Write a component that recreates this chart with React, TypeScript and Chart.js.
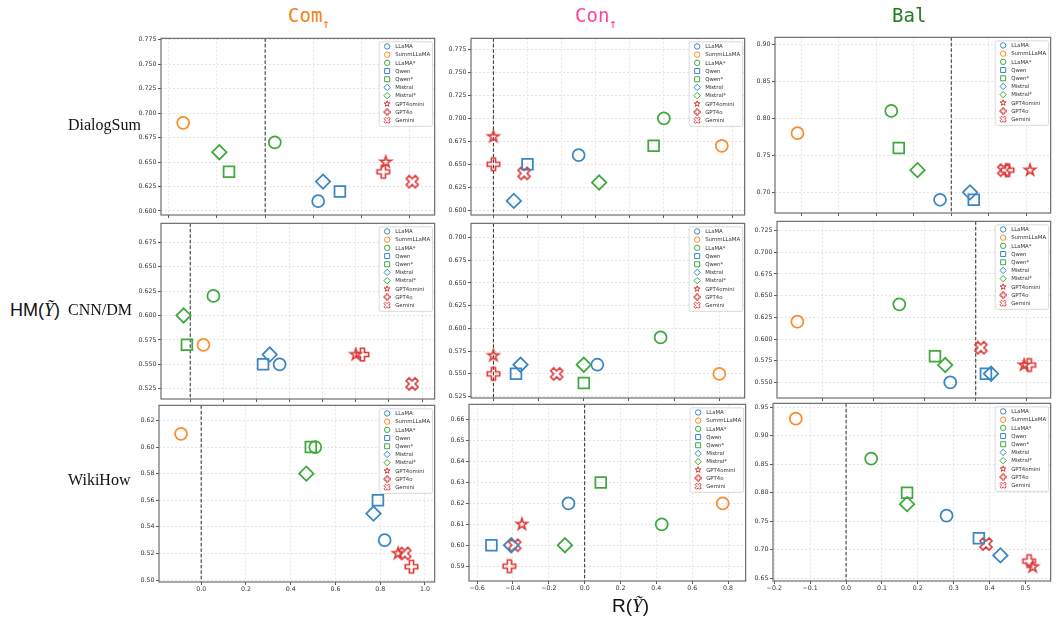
import React, { useEffect, useRef } from "react";
import { Chart, registerables } from "chart.js";

Chart.register(...registerables);

// ---------------- data ----------------
const MODELS = ["LLaMA", "SummLLaMA", "LLaMA*", "Qwen", "Qwen*", "Mistral", "Mistral*", "GPT4omini", "GPT4o", "Gemini"];
const MODEL_MARKERS = ["circle", "circle", "circle", "rect", "rect", "rectRot", "rectRot", "star", "plus", "x"];
const MODEL_COLOR_KEYS = ["blue", "orange", "green", "blue", "green", "blue", "green", "red", "red", "red"];

const COLUMN_TITLES = ["Com", "Con", "Bal"];
const ROW_TITLES = ["DialogSum", "CNN/DM", "WikiHow"];

// DialogSum
const DS_COM_X = [0.22, -0.34, 0.04, 0.31, -0.15, 0.24, -0.19, 0.5, 0.49, 0.61];
const DS_COM_Y = [0.61, 0.69, 0.67, 0.62, 0.64, 0.63, 0.66, 0.65, 0.64, 0.63];
const DS_CON_X = [0.25, 0.67, 0.5, 0.1, 0.47, 0.06, 0.31, 0.0, 0.0, 0.09];
const DS_CON_Y = [0.66, 0.67, 0.7, 0.65, 0.67, 0.61, 0.63, 0.68, 0.65, 0.64];
const DS_BAL_X = [-0.03, -0.41, -0.16, 0.06, -0.14, 0.05, -0.09, 0.21, 0.15, 0.14];
const DS_BAL_Y = [0.69, 0.78, 0.81, 0.69, 0.76, 0.7, 0.73, 0.73, 0.73, 0.73];
// CNN/DM
const CNN_COM_X = [0.27, 0.04, 0.07, 0.22, -0.01, 0.24, -0.02, 0.5, 0.52, 0.67];
const CNN_COM_Y = [0.55, 0.57, 0.62, 0.55, 0.57, 0.56, 0.6, 0.56, 0.56, 0.53];
const CNN_CON_X = [0.23, 0.5, 0.37, 0.05, 0.2, 0.06, 0.2, 0.0, 0.0, 0.14];
const CNN_CON_Y = [0.56, 0.55, 0.59, 0.55, 0.54, 0.56, 0.56, 0.57, 0.55, 0.55];
const CNN_BAL_X = [-0.05, -0.35, -0.15, 0.02, -0.08, 0.03, -0.06, 0.095, 0.105, 0.01];
const CNN_BAL_Y = [0.55, 0.62, 0.64, 0.56, 0.58, 0.56, 0.57, 0.57, 0.57, 0.59];
// WikiHow
const WH_COM_X = [0.82, -0.09, 0.51, 0.79, 0.49, 0.77, 0.47, 0.88, 0.94, 0.91];
const WH_COM_Y = [0.53, 0.61, 0.6, 0.56, 0.6, 0.55, 0.58, 0.52, 0.51, 0.52];
const WH_CON_X = [-0.09, 0.77, 0.43, -0.52, 0.09, -0.41, -0.11, -0.35, -0.42, -0.39];
const WH_CON_Y = [0.62, 0.62, 0.61, 0.6, 0.63, 0.6, 0.6, 0.61, 0.59, 0.6];
const WH_BAL_X = [0.28, -0.14, 0.07, 0.37, 0.17, 0.43, 0.17, 0.52, 0.51, 0.39];
const WH_BAL_Y = [0.76, 0.93, 0.86, 0.72, 0.8, 0.69, 0.78, 0.67, 0.68, 0.71];

// tick values
const DS_COM_XTICKS = [-0.4, -0.2, 0.0, 0.2, 0.4, 0.6];
const DS_COM_YTICKS = [0.6, 0.625, 0.65, 0.675, 0.7, 0.725, 0.75, 0.775];
const DS_CON_XTICKS = [0.0, 0.1, 0.2, 0.3, 0.4, 0.5, 0.6, 0.7];
const DS_CON_YTICKS = [0.6, 0.625, 0.65, 0.675, 0.7, 0.725, 0.75, 0.775];
const DS_BAL_XTICKS = [-0.4, -0.3, -0.2, -0.1, 0.0, 0.1, 0.2];
const DS_BAL_YTICKS = [0.7, 0.75, 0.8, 0.85, 0.9];
const CNN_COM_XTICKS = [0.0, 0.1, 0.2, 0.3, 0.4, 0.5, 0.6, 0.7];
const CNN_COM_YTICKS = [0.525, 0.55, 0.575, 0.6, 0.625, 0.65, 0.675];
const CNN_CON_XTICKS = [0.0, 0.1, 0.2, 0.3, 0.4, 0.5];
const CNN_CON_YTICKS = [0.525, 0.55, 0.575, 0.6, 0.625, 0.65, 0.675, 0.7];
const CNN_BAL_XTICKS = [-0.3, -0.2, -0.1, 0.0, 0.1];
const CNN_BAL_YTICKS = [0.55, 0.575, 0.6, 0.625, 0.65, 0.675, 0.7, 0.725];
const WH_COM_XTICKS = [0.0, 0.2, 0.4, 0.6, 0.8, 1.0];
const WH_COM_YTICKS = [0.5, 0.52, 0.54, 0.56, 0.58, 0.6, 0.62];
const WH_CON_XTICKS = [-0.6, -0.4, -0.2, 0.0, 0.2, 0.4, 0.6, 0.8];
const WH_CON_YTICKS = [0.59, 0.6, 0.61, 0.62, 0.63, 0.64, 0.65, 0.66];
const WH_BAL_XTICKS = [-0.2, -0.1, 0.0, 0.1, 0.2, 0.3, 0.4, 0.5];
const WH_BAL_YTICKS = [0.65, 0.7, 0.75, 0.8, 0.85, 0.9, 0.95];

// ---------------- styles / layout ----------------
const COLORS: Record<string, string> = {
  blue: "#3a86c2",
  orange: "#fd8b2a",
  green: "#3fa93f",
  red: "#dc3838",
};

type Panel = {
  xs: number[]; ys: number[]; xt: number[]; yt: number[];
  l: number; t: number; r: number; b: number;
  xMin: number; xMax: number; yMin: number; yMax: number;
  yDec: number; showX: boolean;
};

const PANELS: Panel[] = [
  { xs: DS_COM_X, ys: DS_COM_Y, xt: DS_COM_XTICKS, yt: DS_COM_YTICKS, l: 161, t: 37, r: 442, b: 215, xMin: -0.432, xMax: 0.703, yMin: 0.5959, yMax: 0.7763, yDec: 3, showX: false },
  { xs: DS_CON_X, ys: DS_CON_Y, xt: DS_CON_XTICKS, yt: DS_CON_YTICKS, l: 471, t: 37, r: 752, b: 215, xMin: -0.0657, xMax: 0.737, yMin: 0.5946, yMax: 0.7872, yDec: 3, showX: false },
  { xs: DS_BAL_X, ys: DS_BAL_Y, xt: DS_BAL_XTICKS, yt: DS_BAL_YTICKS, l: 775, t: 36, r: 1058, b: 213, xMin: -0.47, xMax: 0.265, yMin: 0.6721, yMax: 0.9094, yDec: 2, showX: false },
  { xs: CNN_COM_X, ys: CNN_COM_Y, xt: CNN_COM_XTICKS, yt: CNN_COM_YTICKS, l: 161, t: 222, r: 442, b: 399, xMin: -0.0882, xMax: 0.7382, yMin: 0.5145, yMax: 0.6943, yDec: 3, showX: false },
  { xs: CNN_CON_X, ys: CNN_CON_Y, xt: CNN_CON_XTICKS, yt: CNN_CON_YTICKS, l: 471, t: 222, r: 752, b: 398, xMin: -0.0496, xMax: 0.556, yMin: 0.5234, yMax: 0.7156, yDec: 3, showX: false },
  { xs: CNN_BAL_X, ys: CNN_BAL_Y, xt: CNN_BAL_XTICKS, yt: CNN_BAL_YTICKS, l: 777, t: 220, r: 1058, b: 398, xMin: -0.39, xMax: 0.147, yMin: 0.532, yMax: 0.7356, yDec: 3, showX: false },
  { xs: WH_COM_X, ys: WH_COM_Y, xt: WH_COM_XTICKS, yt: WH_COM_YTICKS, l: 159, t: 404, r: 442, b: 582, xMin: -0.1885, xMax: 1.0435, yMin: 0.4985, yMax: 0.6314, yDec: 2, showX: true },
  { xs: WH_CON_X, ys: WH_CON_Y, xt: WH_CON_XTICKS, yt: WH_CON_YTICKS, l: 469, t: 403, r: 753, b: 581, xMin: -0.645, xMax: 0.898, yMin: 0.5829, yMax: 0.6673, yDec: 2, showX: true },
  { xs: WH_BAL_X, ys: WH_BAL_Y, xt: WH_BAL_XTICKS, yt: WH_BAL_YTICKS, l: 773, t: 402, r: 1058, b: 581, xMin: -0.2035, xMax: 0.57, yMin: 0.645, yMax: 0.957, yDec: 2, showX: true },
];

const PAD_L = 46, PAD_T = 8, PAD_R = 2, PAD_B = 18;
const TICK_FONT = { family: "'DejaVu Sans', sans-serif", size: 6.3 };

const NATIVE_RADIUS: Record<string, number> = { circle: 6.0, rect: 7.6, rectRot: 7.2 };
const IMAGE_SIZE: Record<string, number> = { star: 5.9, plus: 6.2, x: 6.0 };
const LEGEND_SIZE: Record<string, number> = { circle: 2.7, rect: 2.5, rectRot: 3.2, star: 3.1, plus: 3.1, x: 3.1 };

function tracePath(ctx: CanvasRenderingContext2D, kind: string, cx: number, cy: number, s: number) {
  ctx.beginPath();
  if (kind === "circle") {
    ctx.arc(cx, cy, s, 0, Math.PI * 2);
  } else if (kind === "rect") {
    ctx.rect(cx - s, cy - s, 2 * s, 2 * s);
  } else if (kind === "rectRot") {
    ctx.moveTo(cx, cy - s); ctx.lineTo(cx + s, cy); ctx.lineTo(cx, cy + s); ctx.lineTo(cx - s, cy); ctx.closePath();
  } else if (kind === "star") {
    for (let i = 0; i < 10; i++) {
      const rr = i % 2 ? s * 0.382 : s;
      const a = -Math.PI / 2 + (i * Math.PI) / 5;
      const px = cx + rr * Math.cos(a), py = cy + rr * Math.sin(a);
      if (i === 0) ctx.moveTo(px, py); else ctx.lineTo(px, py);
    }
    ctx.closePath();
  } else if (kind === "plus") {
    const w = s / 3;
    const pts = [[-w, -s], [-w, -w], [-s, -w], [-s, w], [-w, w], [-w, s], [w, s], [w, w], [s, w], [s, -w], [w, -w], [w, -s]];
    pts.forEach((p, i) => (i === 0 ? ctx.moveTo(cx + p[0], cy + p[1]) : ctx.lineTo(cx + p[0], cy + p[1])));
    ctx.closePath();
  } else if (kind === "x") {
    const u = s / 2;
    const pts = [[-1, -2], [0, -1], [1, -2], [2, -1], [1, 0], [2, 1], [1, 2], [0, 1], [-1, 2], [-2, 1], [-1, 0], [-2, -1]];
    pts.forEach((p, i) => (i === 0 ? ctx.moveTo(cx + p[0] * u, cy + p[1] * u) : ctx.lineTo(cx + p[0] * u, cy + p[1] * u)));
    ctx.closePath();
  }
}

function makeMarkerImage(kind: string, color: string): HTMLCanvasElement {
  const s = IMAGE_SIZE[kind];
  const size = Math.ceil(s * 2 + 6);
  const c = document.createElement("canvas");
  c.width = size; c.height = size;
  const ctx = c.getContext("2d")!;
  tracePath(ctx, kind, size / 2, size / 2, s);
  ctx.strokeStyle = color; ctx.lineWidth = 1.6; ctx.lineJoin = "miter";
  ctx.stroke();
  return c;
}

const framePlugin = {
  id: "frameAndZero",
  beforeDatasetsDraw(chart: any) {
    const { ctx, chartArea } = chart;
    const x0 = chart.scales.x.getPixelForValue(0);
    ctx.save();
    ctx.setLineDash([3.5, 2]);
    ctx.strokeStyle = "#2a2a2a";
    ctx.lineWidth = 1;
    ctx.beginPath();
    ctx.moveTo(x0, chartArea.top);
    ctx.lineTo(x0, chartArea.bottom);
    ctx.stroke();
    ctx.setLineDash([]);
    ctx.strokeStyle = "#6e6e6e";
    ctx.lineWidth = 1.2;
    ctx.strokeRect(chartArea.left, chartArea.top, chartArea.right - chartArea.left, chartArea.bottom - chartArea.top);
    ctx.restore();
  },
};

const legendPlugin = {
  id: "boxLegend",
  afterDatasetsDraw(chart: any) {
    const { ctx, chartArea } = chart;
    const w = 53.5, h = 84.5;
    const x0 = chartArea.right - 2 - w;
    const y0 = chartArea.top + 3.5;
    ctx.save();
    ctx.beginPath();
    if ((ctx as any).roundRect) (ctx as any).roundRect(x0, y0, w, h, 2);
    else ctx.rect(x0, y0, w, h);
    ctx.fillStyle = "rgba(255,255,255,0.85)";
    ctx.fill();
    ctx.strokeStyle = "#d0d0d0";
    ctx.lineWidth = 0.8;
    ctx.stroke();
    ctx.font = "5.4px 'DejaVu Sans', sans-serif";
    ctx.textBaseline = "middle";
    ctx.textAlign = "left";
    MODELS.forEach((m, i) => {
      const cy = y0 + 4.6 + i * 8.2;
      const kind = MODEL_MARKERS[i];
      tracePath(ctx, kind, x0 + 8, cy, LEGEND_SIZE[kind]);
      ctx.strokeStyle = COLORS[MODEL_COLOR_KEYS[i]];
      ctx.lineWidth = 1;
      ctx.stroke();
      ctx.fillStyle = "#333";
      ctx.fillText(m, x0 + 16, cy + 0.3);
    });
    ctx.restore();
  },
};

function fmtX(v: number) {
  const s = Math.abs(v).toFixed(1);
  return v < -1e-9 ? "\u2212" + s : s;
}

function buildChart(canvas: HTMLCanvasElement, p: Panel) {
  const datasets = MODELS.map((m, i) => {
    const kind = MODEL_MARKERS[i];
    const color = COLORS[MODEL_COLOR_KEYS[i]];
    const native = kind === "circle" || kind === "rect" || kind === "rectRot";
    return {
      label: m,
      data: [{ x: p.xs[i], y: p.ys[i] }],
      pointStyle: native ? kind : makeMarkerImage(kind, color),
      pointRadius: native ? NATIVE_RADIUS[kind] : 6,
      borderColor: color,
      backgroundColor: "rgba(0,0,0,0)",
      borderWidth: 1.75,
      showLine: false,
    };
  });
  return new Chart(canvas, {
    type: "scatter",
    data: { datasets },
    options: {
      animation: false,
      responsive: false,
      maintainAspectRatio: false,
      devicePixelRatio: 1,
      events: [],
      layout: { padding: { left: 0, top: PAD_T, right: PAD_R, bottom: 0 } },
      plugins: { legend: { display: false }, tooltip: { enabled: false } },
      scales: {
        x: {
          type: "linear",
          min: p.xMin,
          max: p.xMax,
          bounds: "data",
          afterBuildTicks: (s: any) => { s.ticks = p.xt.map((v) => ({ value: v })); },
          afterFit: (s: any) => { s.height = PAD_B; s.paddingLeft = 0; s.paddingRight = 0; },
          grid: { color: "#dedede", lineWidth: 0.8, drawTicks: true, tickLength: 3, tickColor: "#444", tickWidth: 0.9, tickBorderDash: [] },
          border: { display: false, dash: [2, 2] },
          ticks: { display: p.showX, padding: 1, color: "#333", font: TICK_FONT, maxRotation: 0, autoSkip: false, callback: (v: any) => fmtX(Number(v)) },
        },
        y: {
          type: "linear",
          min: p.yMin,
          max: p.yMax,
          bounds: "data",
          afterBuildTicks: (s: any) => { s.ticks = p.yt.map((v) => ({ value: v })); },
          afterFit: (s: any) => { s.width = PAD_L; s.paddingTop = 0; s.paddingBottom = 0; },
          grid: { color: "#dedede", lineWidth: 0.8, drawTicks: true, tickLength: 3, tickColor: "#444", tickWidth: 0.9, tickBorderDash: [] },
          border: { display: false, dash: [2, 2] },
          ticks: { padding: 1.5, color: "#333", font: TICK_FONT, autoSkip: false, callback: (v: any) => Number(v).toFixed(p.yDec) },
        },
      },
    } as any,
    plugins: [framePlugin, legendPlugin],
  });
}

const COL_COLORS = ["#f77f14", "#ff3f9f", "#1f7a1f"];
const COL_X = [288, 575, 892];
const ROW_Y = [125, 310, 480];

export default function App() {
  const refs = useRef<(HTMLCanvasElement | null)[]>([]);
  useEffect(() => {
    const charts = PANELS.map((p, i) => buildChart(refs.current[i]!, p));
    return () => charts.forEach((c) => c.destroy());
  }, []);

  return (
    <div style={{ position: "fixed", left: 0, top: 0, width: 1060, height: 621, background: "#fff", overflow: "hidden" }}>
      {PANELS.map((p, i) => {
        const w = p.r - p.l + PAD_L + PAD_R;
        const h = p.b - p.t + PAD_T + PAD_B;
        return (
          <canvas
            key={i}
            ref={(el) => { refs.current[i] = el; }}
            width={w}
            height={h}
            style={{ position: "absolute", left: p.l - PAD_L, top: p.t - PAD_T, width: w, height: h }}
          />
        );
      })}
      {COLUMN_TITLES.map((t, i) => (
        <div key={t} style={{ position: "absolute", left: COL_X[i], top: 4, fontFamily: "'DejaVu Sans Mono', monospace", fontSize: 19, lineHeight: "22px", color: COL_COLORS[i], whiteSpace: "nowrap" }}>
          {t}
          {i < 2 ? <span style={{ fontSize: 13, position: "relative", top: 6 }}>{"\u2191"}</span> : null}
        </div>
      ))}
      {ROW_TITLES.map((t, i) => (
        <div key={t} style={{ position: "absolute", left: 68, top: ROW_Y[i] - 10, fontFamily: "'Liberation Serif', 'Times New Roman', serif", fontSize: 16, lineHeight: "20px", color: "#111", whiteSpace: "nowrap" }}>
          {t}
        </div>
      ))}
      <div style={{ position: "absolute", left: 10, top: 298, fontFamily: "'Liberation Sans', Arial, sans-serif", fontSize: 18, lineHeight: "24px", color: "#111", whiteSpace: "nowrap" }}>
        HM(<span style={{ fontFamily: "'Liberation Serif', serif", fontStyle: "italic" }}>{"\u1EF8"}</span>)
      </div>
      <div style={{ position: "absolute", left: 612, top: 594, fontFamily: "'Liberation Sans', Arial, sans-serif", fontSize: 19, lineHeight: "24px", color: "#111", whiteSpace: "nowrap" }}>
        R(<span style={{ fontFamily: "'Liberation Serif', serif", fontStyle: "italic" }}>{"\u1EF8"}</span>)
      </div>
    </div>
  );
}
